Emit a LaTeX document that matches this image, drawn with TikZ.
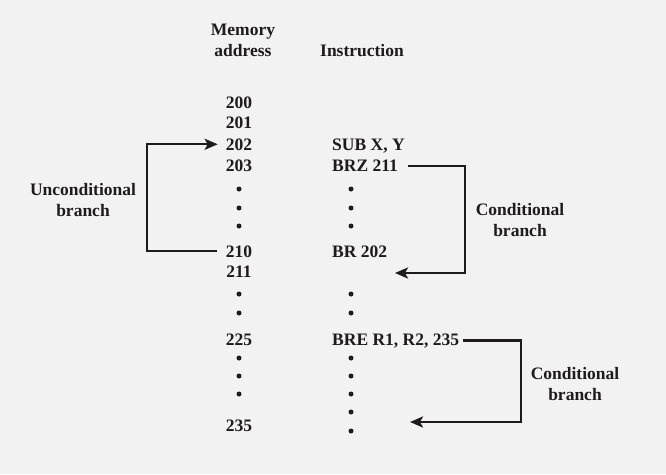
\documentclass[tikz,border=0pt]{standalone}
\usepackage{fontspec}
\setmainfont{Liberation Serif}
\usetikzlibrary{arrows.meta}
\definecolor{bg}{HTML}{F2F2F2}
\definecolor{ink}{HTML}{1E1B1C}
\tikzset{
  lbl/.style={font=\fontsize{17.5}{20}\selectfont\bfseries, text=ink, inner sep=0pt, anchor=base},
  addr/.style={lbl, anchor=base},
  instr/.style={lbl, anchor=base west},
  two/.style={font=\fontsize{17.5}{21}\selectfont\bfseries, text=ink, inner sep=0pt, align=center},
  dotmark/.style={circle, fill=ink, inner sep=0pt, minimum size=5pt},
  conn/.style={draw=ink, line width=2.3pt},
  arr/.style={conn, -{Stealth[length=13pt,width=11pt,inset=3pt]}},
}
\begin{document}
\begin{tikzpicture}[x=1pt,y=-1pt]
\useasboundingbox[fill=bg] (0,0) rectangle (666,474);
% headers
\node[two] (hmem) at (243,40) {Memory\\address};
\node[lbl] (hins) at (362,56) {Instruction};
% addresses
\node[addr] (a200) at (239,108) {200};
\node[addr] (a201) at (239,128.5) {201};
\node[addr] (a202) at (239,150) {202};
\node[addr] (a203) at (239,171.5) {203};
\node[dotmark] (d1) at (239,189) {};
\node[dotmark] (d2) at (239,208) {};
\node[dotmark] (d3) at (239,226) {};
\node[addr] (a210) at (239,257) {210};
\node[addr] (a211) at (239,277) {211};
\node[dotmark] (d4) at (239,294) {};
\node[dotmark] (d5) at (239,313) {};
\node[addr] (a225) at (239,345) {225};
\node[dotmark] (d6) at (239,358) {};
\node[dotmark] (d7) at (239,376) {};
\node[dotmark] (d8) at (239,394) {};
\node[addr] (a235) at (239,431) {235};
% instructions
\node[instr] (i202) at (332,150) {SUB X, Y};
\node[instr] (i203) at (332,171.5) {BRZ 211};
\node[dotmark] (e1) at (351,189) {};
\node[dotmark] (e2) at (351,208) {};
\node[dotmark] (e3) at (351,226) {};
\node[instr] (i210) at (332,257) {BR 202};
\node[dotmark] (e4) at (351,294) {};
\node[dotmark] (e5) at (351,313) {};
\node[instr] (i225) at (332,345) {BRE R1, R2, 235};
\node[dotmark] (e6) at (351,358) {};
\node[dotmark] (e7) at (351,376) {};
\node[dotmark] (e8) at (351,394) {};
\node[dotmark] (e9) at (351,412) {};
\node[dotmark] (e10) at (351,431) {};
% labels
\node[two] (lu) at (83,200.5) {Unconditional\\branch};
\node[two] (lc1) at (520,220.5) {Conditional\\branch};
\node[two] (lc2) at (575,384.5) {Conditional\\branch};
% targets
\coordinate (t211) at (395,273);
\coordinate (t235) at (410,422);
% connectors
\draw[arr] ([xshift=-9pt]a210.west) -| (147,0 |- a202.west) -- ([xshift=-8pt]a202.west);
\draw[arr] ([xshift=10pt]i203.east) -| (465,0 |- t211) -- (t211);
\draw[arr] ([xshift=4pt]i225.east) -| (521,0 |- t235) -- (t235);
\end{tikzpicture}
\end{document}
